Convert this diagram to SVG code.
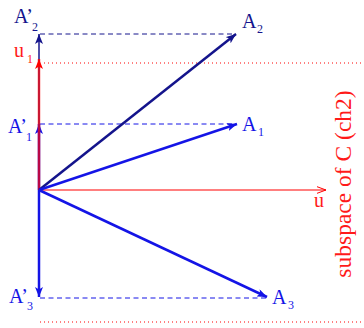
<svg xmlns="http://www.w3.org/2000/svg" width="364" height="328" viewBox="0 0 364 328">
<style>
text{font-family:"Liberation Serif","Times New Roman",serif}
.lbl{font-size:20px}
.sub{font-size:12px}
.navy{fill:#14148c}
.blue{fill:#1414e6}
.red{fill:#ff1a1a}
.ln{fill:none;stroke-linecap:butt}
.dash{stroke-dasharray:5 3.5;stroke-width:1}
.dot{stroke:#ff0000;stroke-width:1;stroke-dasharray:1 3}
</style>
<defs>
<marker id="hN" viewBox="0 0 10 8" refX="10" refY="4" markerWidth="10" markerHeight="8" markerUnits="userSpaceOnUse" orient="auto"><path d="M0,0 L10,4 L0,8 L2.5,4 z" fill="#14148c"/></marker>
<marker id="hB" viewBox="0 0 10 8" refX="10" refY="4" markerWidth="10" markerHeight="8" markerUnits="userSpaceOnUse" orient="auto"><path d="M0,0 L10,4 L0,8 L2.5,4 z" fill="#1414e6"/></marker>
<marker id="hR" viewBox="0 0 10 8" refX="10" refY="4" markerWidth="10" markerHeight="8" markerUnits="userSpaceOnUse" orient="auto"><path d="M0,0 L10,4 L0,8 L2.5,4 z" fill="#ff0000"/></marker>
<marker id="hRo" viewBox="0 0 10 8" refX="9.5" refY="4" markerWidth="10" markerHeight="8" markerUnits="userSpaceOnUse" orient="auto"><path d="M0,0.5 L9.5,4 L0,7.5" fill="none" stroke="#ff0000" stroke-width="1"/></marker>
</defs>
<g id="connectors">
<line class="ln dot" x1="44" y1="63" x2="364" y2="63"/>
<line class="ln dot" x1="40" y1="322" x2="364" y2="322"/>
<line class="ln dash" stroke="#14148c" x1="40" y1="34" x2="236" y2="34"/>
<line class="ln dash" stroke="#1414e6" x1="40" y1="124" x2="236" y2="124"/>
<line class="ln dash" stroke="#1414e6" x1="40" y1="298" x2="266" y2="298"/>
<line class="ln" stroke="#14148c" stroke-width="1.5" x1="39" y1="190" x2="39" y2="34" marker-end="url(#hN)"/>
<line class="ln" stroke="#1414e6" stroke-width="2.5" x1="39" y1="190" x2="39" y2="124" marker-end="url(#hB)"/>
<line class="ln" stroke="#ff0000" stroke-opacity="0.7" stroke-width="2.5" x1="39" y1="190" x2="39" y2="59" marker-end="url(#hR)"/>
<line class="ln" stroke="#1414e6" stroke-width="2.5" x1="39" y1="190" x2="39" y2="297" marker-end="url(#hB)"/>
<line class="ln" stroke="#ff0000" stroke-width="1.2" x1="39" y1="190" x2="326" y2="190" marker-end="url(#hRo)"/>
<line class="ln" stroke="#14148c" stroke-width="2.5" x1="39" y1="190" x2="236" y2="34" marker-end="url(#hN)"/>
<line class="ln" stroke="#1414e6" stroke-width="2.5" x1="39" y1="190" x2="237" y2="124" marker-end="url(#hB)"/>
<line class="ln" stroke="#1414e6" stroke-width="2.5" x1="39" y1="190" x2="267" y2="297" marker-end="url(#hB)"/>
</g>
<g id="A2"><text class="lbl navy" x="242" y="28">A</text><text class="sub navy" x="257" y="33">2</text></g>
<g id="A1"><text class="lbl blue" x="242" y="131">A</text><text class="sub blue" x="258" y="136">1</text></g>
<g id="A3"><text class="lbl blue" x="272" y="304">A</text><text class="sub blue" x="288" y="309">3</text></g>
<g id="A2p"><text class="lbl navy" x="14" y="23">A’</text><text class="sub navy" x="32" y="31">2</text></g>
<g id="A1p"><text class="lbl blue" x="8" y="133">A’</text><text class="sub blue" x="26" y="141">1</text></g>
<g id="A3p"><text class="lbl blue" x="9" y="303">A’</text><text class="sub blue" x="27" y="310">3</text></g>
<g id="u1"><text class="lbl red" x="14" y="57">u</text><text class="sub red" x="27" y="63">1</text></g>
<g id="u"><text class="lbl red" x="314" y="207">u</text></g>
<g id="subspace"><text class="red" font-size="23.5" text-anchor="middle" transform="translate(351,184) rotate(-90)">subspace of C (ch2)</text></g>
</svg>
